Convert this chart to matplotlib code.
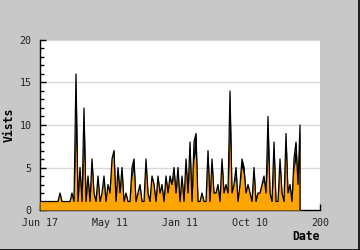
import numpy as np
import matplotlib
matplotlib.use("Agg")
import matplotlib.pyplot as plt
from matplotlib.ticker import MultipleLocator
from matplotlib.lines import Line2D

visits = [1,1,1,1,1,1,1,1,1,1, 2,1,1,1,1,1, 2,1,16,1,5,1,12,1,4,1,6,2,1,4,
          1,2,4,1,3,2,6,7,1,5, 2,5,1,2,1,1,5,6,1,2, 3,1,1,6,2,1,4,3,1,4,
          2,3,1,4,2,4,3,5,2,5, 1,4,1,6,2,8,1,8,9,1, 1,2,1,1,7,1,6,2,2,3,
          1,6,2,3,2,14,2,3,5,1, 3,6,5,2,3,2,1,5,1,2, 2,3,4,2,11,2,1,8,1,1,
          6,2,1,9,2,3,1,6,8,3, 10]
unique = [1,1,1,1,1,1,1,1,1,1, 2,1,1,1,1,1, 2,1,8.5,1,4,1,7,1,3.5,1,5,2,1,3.5,
          1,2,3.5,1,3,2,6,6.8,1,4, 2,4,1,2,1,1,4,5,1,2, 3,1,1,5,2,1,4,3,1,3.5,
          2,3,1,3.5,2,3.5,3,4,2,4, 1,3.5,1,5,2,6,1,6,7,1, 1,2,1,1,6,1,5,2,2,3,
          1,5,2,3,2,8.5,2,3,4,1, 3,5,4,2,3,2,1,4,1,2, 2,3,3.5,2,6.5,2,1,6,1,1,
          5,2,1,7,2,3,1,5,6,3, 7.5]
tick_pos = [0, 35, 70, 105, 140]
tick_labels = ["Jun 17", "May 11", "Jan 11", "Oct 10", "200"]

x = np.arange(len(visits))
v = np.array(visits, dtype=float)
u = np.array(unique, dtype=float)

bg = "#c8c8c8"
fig = plt.figure(figsize=(3.6, 2.5), dpi=100, facecolor=bg)
ax = fig.add_axes([40/360, 40/250, 280/360, 170/250])
ax.set_facecolor("white")

for g in [5, 10, 15, 20]:
    ax.axhline(g, color="#d8d8d8", lw=1, zorder=0)

ax.fill_between(x, 0, v, color="black", lw=0, zorder=2)
ax.fill_between(x, 0, u, color="#ffa500", lw=0, zorder=3)
ax.plot(np.r_[x, x[-1]], np.r_[v, 0], color="black", lw=0.9, zorder=4)

ax.set_xlim(0, 140)
ax.set_ylim(0, 20)
ax.set_xticks(tick_pos)
ax.set_xticklabels(tick_labels)
ax.yaxis.set_major_locator(MultipleLocator(5))
ax.yaxis.set_minor_locator(MultipleLocator(1))

for s in ["top", "right"]:
    ax.spines[s].set_visible(False)
for s in ["left", "bottom"]:
    ax.spines[s].set_linewidth(1)
    ax.spines[s].set_color("black")

mono = "DejaVu Sans Mono"
ax.tick_params(axis="both", which="major", direction="in", length=4, width=1,
               labelsize=7.2, pad=6)
ax.tick_params(axis="y", which="minor", direction="in", length=3, width=1)
for lab in ax.get_xticklabels() + ax.get_yticklabels():
    lab.set_fontfamily(mono)
    lab.set_color("#222222")

fig.text(9.5/360, 1 - 125/250, "Vists", rotation=90, ha="center", va="center",
         fontfamily=mono, fontweight="bold", fontsize=8.3)
fig.text(320/360, 1 - 236/250, "Date", ha="right", va="center",
         fontfamily=mono, fontweight="bold", fontsize=8.3)

# frame on bottom and right edges of the image
fig.lines.append(Line2D([0, 0.998, 0.998], [0.002, 0.002, 1], transform=fig.transFigure,
                        color="black", lw=1.2))

fig.savefig("out.png", dpi=100, facecolor=bg)
